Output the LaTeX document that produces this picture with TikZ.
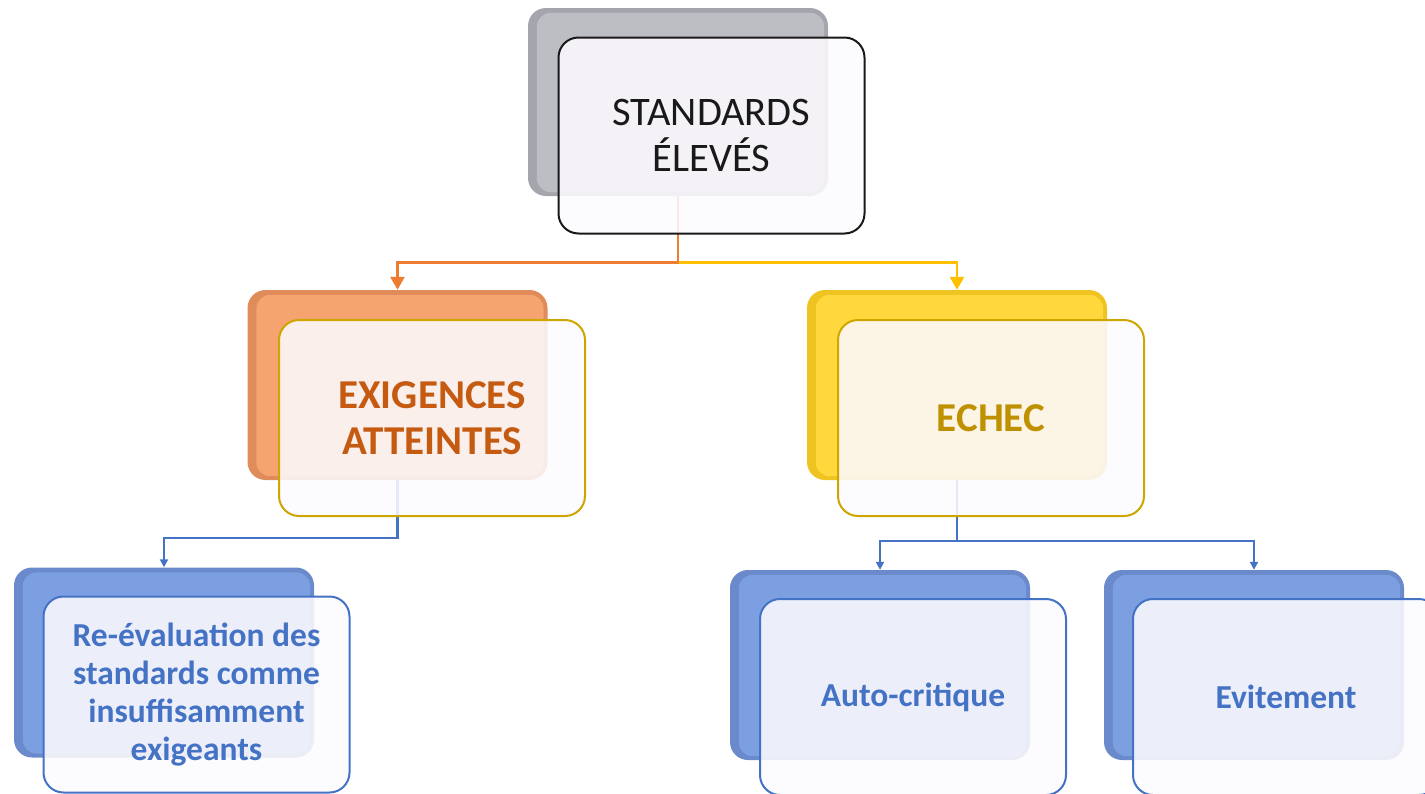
\documentclass[tikz,border=0pt]{standalone}
\usepackage{fontspec}
\setmainfont{Carlito}
\usetikzlibrary{arrows.meta,calc}
\definecolor{grayback}{HTML}{BDBDC4}
\definecolor{graydark}{HTML}{A5A5AD}
\definecolor{orback}{HTML}{F5A36F}
\definecolor{ordark}{HTML}{E08C5A}
\definecolor{yelback}{HTML}{FFD83D}
\definecolor{yeldark}{HTML}{F0C420}
\definecolor{blueback}{HTML}{7C9FE2}
\definecolor{bluedark}{HTML}{6A8ACB}
\definecolor{frontfill}{HTML}{FCFAFD}
\definecolor{orline}{HTML}{ED7D31}
\definecolor{yelline}{HTML}{FFC000}
\definecolor{blueline}{HTML}{4472C4}
\definecolor{goldborder}{HTML}{CFA500}
\definecolor{ortext}{HTML}{C55A11}
\definecolor{yeltext}{HTML}{BF9000}
\definecolor{bluetext}{HTML}{4472C4}
\begin{document}
\begin{tikzpicture}[x=1pt,y=-1pt,
  backbox/.style={rounded corners=18pt, minimum width=300pt, minimum height=190pt, inner sep=0pt},
  frontbox/.style={rounded corners=20pt, minimum width=306pt, minimum height=196pt, inner sep=0pt,
    fill=frontfill, fill opacity=0.88, text opacity=1, line width=2pt, align=center},
  toptext/.style={font=\fontsize{40.5}{46}\selectfont, text=black!90},
  midtext/.style={font=\bfseries\fontsize{41}{46}\selectfont},
  lowtext/.style={font=\bfseries\fontsize{33.5}{38}\selectfont, text=bluetext},
  bigtip/.style={-{Triangle[length=13pt,width=14pt]}},
  smalltip/.style={-{Triangle[length=8pt,width=8pt]}}
]
\useasboundingbox (0,0) rectangle (1425,793);

% back boxes
\node[backbox, fill=graydark, minimum height=188pt] (sb) at (678,102) {};
\fill[grayback, rounded corners=14pt] ([xshift=9pt,yshift=-5pt]sb.north west) rectangle ([xshift=-4pt,yshift=4pt]sb.south east);
\node[backbox, fill=ordark] (eb) at (397.5,385) {};
\fill[orback, rounded corners=14pt] ([xshift=9pt,yshift=-5pt]eb.north west) rectangle ([xshift=-4pt,yshift=4pt]eb.south east);
\node[backbox, fill=yeldark] (yb) at (957,385) {};
\fill[yelback, rounded corners=14pt] ([xshift=9pt,yshift=-5pt]yb.north west) rectangle ([xshift=-4pt,yshift=4pt]yb.south east);
\node[backbox, fill=bluedark] (rb) at (164,662.5) {};
\fill[blueback, rounded corners=14pt] ([xshift=9pt,yshift=-5pt]rb.north west) rectangle ([xshift=-4pt,yshift=4pt]rb.south east);
\node[backbox, fill=bluedark] (ab) at (880,665) {};
\fill[blueback, rounded corners=14pt] ([xshift=9pt,yshift=-5pt]ab.north west) rectangle ([xshift=-4pt,yshift=4pt]ab.south east);
\node[backbox, fill=bluedark] (vb) at (1254,665) {};
\fill[blueback, rounded corners=14pt] ([xshift=9pt,yshift=-5pt]vb.north west) rectangle ([xshift=-4pt,yshift=4pt]vb.south east);

% connectors
\coordinate (sj) at ($(sb.south)+(0,66)$);
\draw[yelline, line width=2.6pt, bigtip] (sj) -| (yb.north);
\draw[orline, line width=2.6pt, bigtip] (sb.south) -- (sj) -| (eb.north);
\coordinate (ej) at ($(eb.south)+(0,58)$);
\draw[blueline, line width=2.2pt, smalltip] (eb.south) -- (ej) -| (rb.north);
\coordinate (yj) at ($(yb.south)+(0,61)$);
\draw[blueline, line width=2.2pt, smalltip] (yb.south) -- (yj) -| (ab.north);
\draw[blueline, line width=2.2pt, smalltip] (yj) -| (vb.north);

% front boxes
\node[frontbox, draw=black!90, toptext] (sf) at (711.5,135.5) {STANDARDS\\ÉLEVÉS};
\node[frontbox, draw=goldborder, midtext, text=ortext] (ef) at (432,418) {EXIGENCES\\ATTEINTES};
\node[frontbox, draw=goldborder, midtext, text=yeltext] (yf) at (991,418) {ECHEC};
\node[frontbox, draw=blueline, lowtext] (rf) at (196.5,694.5) {Re-évaluation des\\standards comme\\insuffisamment\\exigeants};
\node[frontbox, draw=blueline, lowtext] (af) at (913,697) {Auto-critique};
\node[frontbox, draw=blueline, lowtext] (vf) at (1286,697) {Evitement};
\end{tikzpicture}
\end{document}
